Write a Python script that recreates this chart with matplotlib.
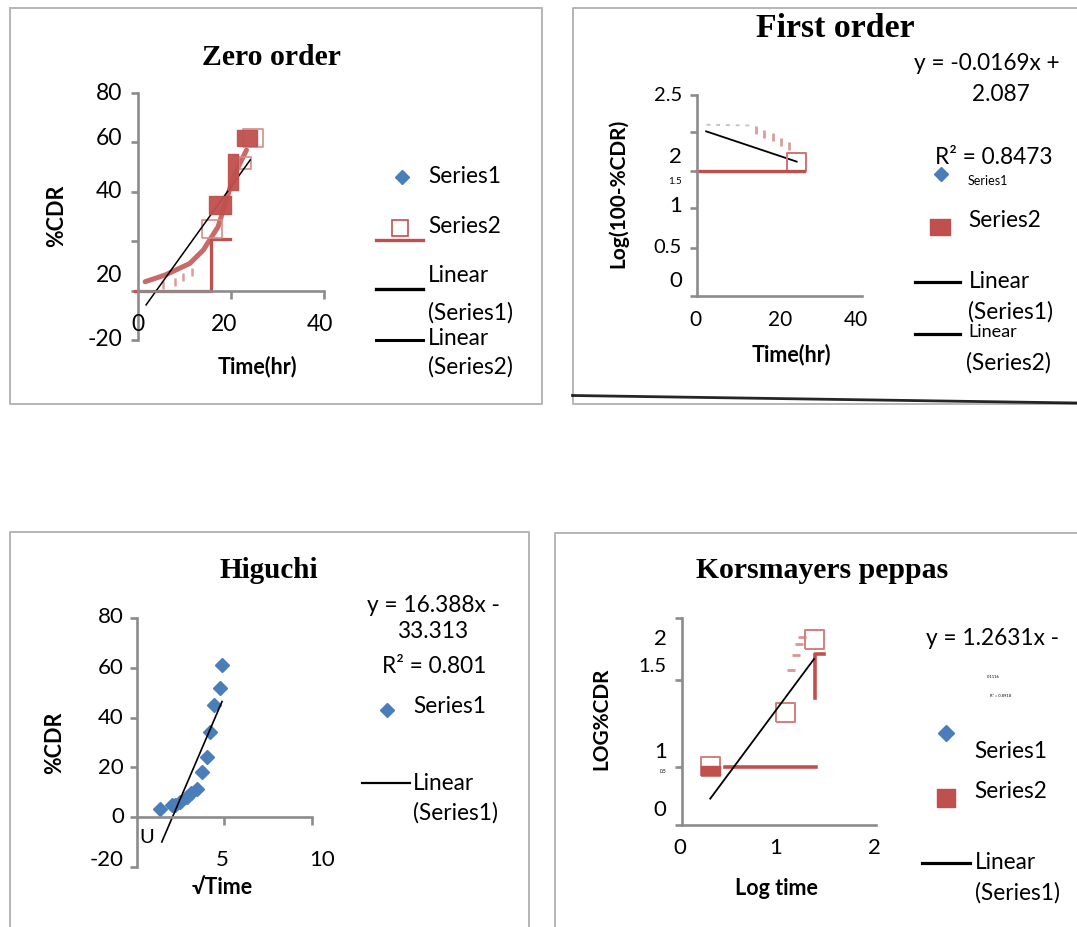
import matplotlib
matplotlib.use("Agg")
import matplotlib.pyplot as plt

plt.rcParams['font.family'] = ['Lato', 'DejaVu Sans']

W, H = 1077, 927

RED = '#c0504d'
PINK = '#d48c8a'
BLUE = '#4a7ebb'
AXIS_GRAY = '#8c8c8c'
BORDER_GRAY = '#b5b5b5'
SERIF = 'Liberation Serif'

# ---------------- Zero order: %CDR vs time (hr) ----------------
zero_time = [1.6, 5.9, 11.2, 14.1, 17.3, 18.4, 20.6, 23.4]
zero_cdr = [3.6, 6.3, 11.0, 16.4, 25.9, 32.6, 46.1, 56.9]
zero_open_time = [15.9, 23.1, 24.9]
zero_open_cdr = [24.8, 51.5, 61.7]
zero_fill_time = [17.8, 20.6, 23.4]
zero_fill_cdr = [34.7, 48.1, 61.7]
zero_dash_time = [5.5, 8.1, 9.8, 11.6]
zero_dash_cdr = [2.3, 3.6, 5.6, 7.7]
zero_step_time = [-0.6, 15.7, 15.7, 19.8]
zero_step_cdr = [0.0, 0.0, 20.8, 20.8]
ZERO_SLOPE, ZERO_INTERCEPT = 2.62, -10.5
zero_fit_range = [1.8, 24.2]

# ---------------- First order: log(100-%CDR) vs time ----------------
first_open_time = [24.5]
first_open_log = [1.67]
first_line_time = [0.0, 26.3]
first_line_log = [1.55, 1.55]
first_dot_time = [2.4, 13.7]
first_dot_log = [2.13, 2.12]
first_dash_time = [14.5, 16.6, 18.7, 20.8, 22.7]
first_dash_log = [2.06, 2.02, 1.98, 1.92, 1.86]
FIRST_SLOPE, FIRST_INTERCEPT = -0.0169, 2.087
FIRST_R2 = 0.8473
first_fit_range = [2.3, 24.6]

# ---------------- Higuchi: %CDR vs sqrt(time) ----------------
higuchi_sqrt_time = [1.32, 1.99, 2.2, 2.47, 2.86, 3.1, 3.43, 3.72, 4.01, 4.20, 4.39, 4.77, 4.87]
higuchi_cdr = [3.4, 4.7, 5.0, 6.0, 8.1, 9.5, 11.4, 18.1, 24.2, 34.3, 45.0, 51.8, 61.2]
HIG_SLOPE, HIG_INTERCEPT = 16.388, -33.313
HIG_R2 = 0.801
higuchi_fit_range = [1.42, 4.87]

# ---------------- Korsmeyer-Peppas: log %CDR vs log time ----------------
kp_open_logt = [0.29, 1.06, 1.36]
kp_open_logc = [0.571, 1.096, 1.80]
kp_fill_logt = [0.29]
kp_fill_logc = [0.53]
kp_hline_logt = [0.44, 1.38]
kp_hline_logc = [0.564, 0.564]
kp_corner_logt = [1.37, 1.37, 1.46]
kp_corner_logc = [1.226, 1.655, 1.655]
kp_dash_logt = [1.12, 1.17, 1.20, 1.24]
kp_dash_logc = [1.50, 1.645, 1.75, 1.816]
KP_SLOPE, KP_INTERCEPT = 1.2631, -0.1116
KP_R2 = 0.8918
kp_fit_range = [0.29, 1.36]


def rect_marker(w, h):
    """Rectangle marker path of w x h pixels; returns (verts, markersize)."""
    m = max(w, h)
    hx, hy = 0.5 * w / m, 0.5 * h / m
    verts = [(-hx, -hy), (hx, -hy), (hx, hy), (-hx, hy), (-hx, -hy)]
    return verts, m * 0.72


fig = plt.figure(figsize=(W / 100, H / 100), dpi=100)
canvas = fig.add_axes([0, 0, 1, 1])
canvas.set_xlim(0, W)
canvas.set_ylim(H, 0)
canvas.axis('off')


def chart_axes(x0, y0, x1, y1):
    ax = fig.add_axes([x0 / W, 1 - y1 / H, (x1 - x0) / W, (y1 - y0) / H])
    ax.set_facecolor('none')
    for s in ('top', 'right'):
        ax.spines[s].set_visible(False)
    for s in ('left', 'bottom'):
        ax.spines[s].set_color(AXIS_GRAY)
        ax.spines[s].set_linewidth(1.9)
    ax.tick_params(colors=AXIS_GRAY, length=5.4, width=1.9,
                   labelleft=False, labelbottom=False)
    return ax


def ylabel_at(ax, s, y, pad, fs):
    ax.annotate(s, xy=(0, y), xycoords=('axes fraction', 'data'),
                xytext=(-pad, 0), textcoords='offset pixels',
                ha='right', va='center', fontsize=fs, annotation_clip=False)


def xlabel_at(ax, s, x, y, fs):
    ax.text(x, y, s, ha='center', va='center', fontsize=fs, clip_on=False)


def ctext(x, y, s, fs=16.3, ha='center', **kw):
    canvas.text(x, y, s, fontsize=fs, ha=ha, va='center', **kw)


# ---- panel frames ----
frame = dict(color=BORDER_GRAY, lw=1.4)
canvas.plot([10.3, 541.7, 541.7, 10.3, 10.3], [8.3, 8.3, 404, 404, 8.3], **frame)
canvas.plot([W + 5, 572.5, 572.5, W + 5], [8.3, 8.3, 404, 404], **frame)
canvas.plot([572.5, W], [395.5, 403], color='black', lw=2.0, alpha=0.85)
canvas.plot([10.3, 10.3, 528.6, 528.6], [H + 5, 531.7, 531.7, H + 5], **frame)
canvas.plot([555.4, 555.4, W + 5], [H + 5, 532.7, 532.7], **frame)

# ======================= Zero order =======================
ax1 = chart_axes(137.7, 93, 323.7, 340)
ax1.set_xlim(0, 40)
ax1.set_ylim(-20, 80)
ax1.spines['bottom'].set_position(('data', 0))
ax1.set_xticks([20, 40])
ax1.set_yticks([-20, 0, 20, 40, 60, 80])
for s, y in [('80', 80), ('60', 61.4), ('40', 40), ('20', 6.3), ('-20', -20)]:
    ylabel_at(ax1, s, y, 15.5, 16.5)
for s, x in [('0', 0), ('20', 18.5), ('40', 39.2)]:
    xlabel_at(ax1, s, x, -13.9, 16.5)

ax1.plot(zero_step_time, zero_step_cdr, color=RED, lw=2.3, clip_on=False)
ax1.plot(zero_dash_time, zero_dash_cdr, ls='none', marker='|', ms=6,
         mew=1.8, color=PINK, alpha=0.85, clip_on=False)
ax1.plot(zero_time, zero_cdr, color=RED, lw=3.6, alpha=0.85,
         solid_capstyle='round', clip_on=False)
open_sizes = [(20, 18), (12, 12), (20, 18)]
for t, c, (w, h) in zip(zero_open_time, zero_open_cdr, open_sizes):
    v, ms = rect_marker(w, h)
    ax1.plot([t], [c], ls='none', marker=v, ms=ms, mfc='none', mec=PINK,
             mew=1.2, clip_on=False)
ax1.plot(zero_fit_range, [ZERO_SLOPE * x + ZERO_INTERCEPT for x in zero_fit_range],
         color='black', lw=1.1, clip_on=False)
fill_sizes = [(21.7, 18), (10, 36.7), (20, 16.7)]
for t, c, (w, h) in zip(zero_fill_time, zero_fill_cdr, fill_sizes):
    v, ms = rect_marker(w, h)
    ax1.plot([t], [c], ls='none', marker=v, ms=ms, color=RED, mec=RED,
             alpha=0.95, clip_on=False)

ctext(271, 57, 'Zero order', fs=21.4, family=SERIF, weight='bold')
ctext(56.8, 216, '%CDR', fs=15.5, weight='bold', rotation=90)
ctext(257.4, 367, 'Time(hr)', fs=15.5, weight='bold')

# legend
canvas.plot([402], [176.7], marker='D', ms=7.5, color=BLUE)
canvas.plot([400], [228.3], marker='s', ms=12, mfc='white', mec=RED, mew=1.2)
canvas.plot([376, 423.3], [240, 240], color=RED, lw=2.4)
canvas.plot([376, 423.3], [289.3, 289.3], color='black', lw=2.4)
canvas.plot([376, 423.3], [340, 340], color='black', lw=2.2)
for s, y in [('Series1', 176.7), ('Series2', 226), ('Linear', 275),
             ('(Series1)', 312.7), ('Linear', 338.3), ('(Series2)', 366.7)]:
    ctext(428, y, s, ha='left')

# ======================= First order =======================
ax2 = chart_axes(696.8, 95, 861.9, 296)
ax2.set_xlim(0, 40.66)
ax2.set_ylim(0, 2.5)
ax2.set_xticks([])
ax2.set_yticks([0, 0.6, 1.09, 1.55, 2.04, 2.5])
ax2.yaxis.get_major_ticks()[4].tick1line.set_color('#cccccc')
for s, y, fs in [('2.5', 2.5, 14.5), ('2', 1.73, 16), ('1.5', 1.43, 7),
                 ('1', 1.12, 16), ('0.5', 0.6, 14.5), ('0', 0.19, 16)]:
    ylabel_at(ax2, s, y, 14.7, fs)
for s, x in [('0', -0.25), ('20', 20.4), ('40', 39.3)]:
    xlabel_at(ax2, s, x, -0.3, 15)

ax2.plot(first_dot_time, first_dot_log, color='#c4c4c4', lw=1.4,
         ls=(0, (2, 3)), clip_on=False)
ax2.plot(first_dash_time, first_dash_log, ls='none', marker='|', ms=6,
         mew=2, color=PINK, alpha=0.85, clip_on=False)
ax2.plot(first_fit_range, [FIRST_SLOPE * x + FIRST_INTERCEPT for x in first_fit_range],
         color='black', lw=1.3, clip_on=False)
v, ms = rect_marker(19, 18)
ax2.plot(first_open_time, first_open_log, ls='none', marker=v, ms=ms,
         mfc='none', mec='#cf7371', mew=1.4, clip_on=False)
ax2.plot(first_line_time, first_line_log, color=RED, lw=2.4, clip_on=False)

ctext(835.4, 28, 'First order', fs=24.4, family=SERIF, weight='bold')
ctext(618.1, 193.3, 'Log(100-%CDR)', fs=15, weight='bold', rotation=90)
ctext(791.7, 355, 'Time(hr)', fs=15.5, weight='bold')

ctext(987, 63, f'y = {FIRST_SLOPE}x +')
ctext(1000.6, 94, f'{FIRST_INTERCEPT}')
ctext(993.4, 157, f'R² = {FIRST_R2}')
canvas.plot([940.7], [174], marker='D', ms=7.5, color=BLUE)
ctext(968, 181, 'Series1', fs=9, ha='left')
v, ms = rect_marker(20, 16.7)
canvas.plot([940], [227], marker=v, ms=ms, color=RED)
ctext(968, 220, 'Series2', ha='left')
canvas.plot([915, 960], [281.7, 281.7], color='black', lw=2.3)
canvas.plot([915, 960], [334, 334], color='black', lw=2.3)
ctext(968.8, 282, 'Linear', ha='left')
ctext(968, 311.7, '(Series1)', ha='left')
ctext(968.8, 332, 'Linear', fs=13, ha='left')
ctext(966.4, 363.3, '(Series2)', ha='left')

# ======================= Higuchi =======================
ax3 = chart_axes(137, 618.3, 311.6, 866.7)
ax3.set_xlim(0, 10)
ax3.set_ylim(-20, 80)
ax3.spines['bottom'].set_position(('data', 0))
ax3.set_xticks([5, 10])
ax3.set_yticks([-20, 0, 20, 40, 60, 80])
for s, y in [('80', 80.6), ('60', 59.8), ('40', 39.8), ('20', 19.8),
             ('0', 0), ('-20', -17.5)]:
    ylabel_at(ax3, s, y, 13, 16)
for s, x in [('5', 4.89), ('10', 10.6)]:
    xlabel_at(ax3, s, x, -17.5, 16)
xlabel_at(ax3, 'U', 0.57, -8.1, 14.5)

ax3.plot(higuchi_sqrt_time, higuchi_cdr, ls='none', marker='D', ms=7.4,
         color=BLUE, clip_on=False)
ax3.plot(higuchi_fit_range, [HIG_SLOPE * x + HIG_INTERCEPT for x in higuchi_fit_range],
         color='black', lw=1.2, clip_on=False)

ctext(269, 570, 'Higuchi', fs=21, family=SERIF, weight='bold')
ctext(55, 743, '%CDR', fs=15.5, weight='bold', rotation=90)
ctext(222, 887, '√Time', fs=15.5, weight='bold')

ctext(433.9, 605, f'y = {HIG_SLOPE}x -')
ctext(432.2, 631.7, f'{-HIG_INTERCEPT}')
ctext(433.9, 666.7, f'R² = {HIG_R2}')
canvas.plot([387.4], [710], marker='D', ms=7.4, color=BLUE)
ctext(413.2, 706.7, 'Series1', ha='left')
canvas.plot([361.6, 409.8], [783.3, 783.3], color='black', lw=1.6)
ctext(413.2, 783, 'Linear', ha='left')
ctext(413.2, 813, '(Series1)', ha='left')

# ======================= Korsmeyer-Peppas =======================
ax4 = chart_axes(682.1, 618.3, 876.1, 825)
ax4.set_xlim(0, 2)
ax4.set_ylim(0, 2)
ax4.set_xticks([])
ax4.set_yticks([0, 0.56, 1.4, 2.0])
for s, y, fs in [('2', 1.80, 16), ('1.5', 1.53, 14.5), ('1', 0.71, 16),
                 ('0.5', 0.515, 3.5), ('0', 0.145, 16)]:
    ylabel_at(ax4, s, y, 15.4, fs)
for s, x in [('0', -0.02), ('1', 0.96), ('2', 1.98)]:
    xlabel_at(ax4, s, x, -0.225, 16)

ax4.plot(kp_hline_logt, kp_hline_logc, color=RED, lw=2.6, clip_on=False)
ax4.plot(kp_corner_logt, kp_corner_logc, color=RED, lw=2.6, clip_on=False)
ax4.plot(kp_dash_logt, kp_dash_logc, ls='none', marker='_', ms=6, mew=2,
         color=PINK, alpha=0.9, clip_on=False)
v, ms = rect_marker(19, 19)
ax4.plot(kp_open_logt, kp_open_logc, ls='none', marker=v, ms=ms,
         mfc='none', mec='#d27f7d', mew=1.4, clip_on=False)
v, ms = rect_marker(19, 9)
ax4.plot(kp_fill_logt, kp_fill_logc, ls='none', marker=v, ms=ms,
         color=RED, clip_on=False)
ax4.plot(kp_fit_range, [KP_SLOPE * x + KP_INTERCEPT for x in kp_fit_range],
         color='black', lw=1.3, clip_on=False)

ctext(821.7, 570, 'Korsmayers peppas', fs=21.4, family=SERIF, weight='bold')
ctext(601.6, 718.3, 'LOG%CDR', fs=15, weight='bold', rotation=90)
ctext(776.3, 888.3, 'Log time', fs=15.5, weight='bold')

ctext(992.9, 638.3, f'y = {KP_SLOPE}x -')
ctext(993.8, 676.7, f'{-KP_INTERCEPT}', fs=3)
ctext(1000.6, 696, f'R² = {KP_R2}', fs=3)
canvas.plot([945.8], [733.3], marker='D', ms=8, color=BLUE)
ctext(974.2, 751.7, 'Series1', ha='left')
v, ms = rect_marker(17.8, 17.3)
canvas.plot([945.8], [798.3], marker=v, ms=ms, color=RED)
ctext(974.2, 791.7, 'Series2', ha='left')
canvas.plot([921.8, 969.8], [862.7, 862.7], color='black', lw=2.3)
ctext(974.9, 862.7, 'Linear', ha='left')
ctext(974.9, 893.3, '(Series1)', ha='left')

fig.savefig('out.png', dpi=100)
